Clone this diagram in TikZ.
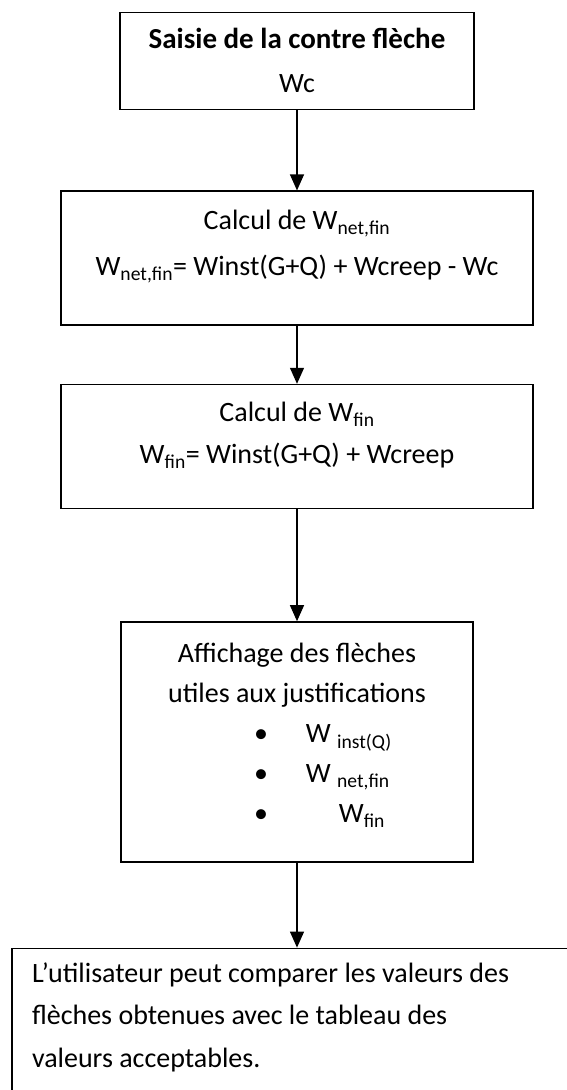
\documentclass[tikz,border=0pt]{standalone}
\usepackage{fontspec}
\setmainfont{Carlito}
\usetikzlibrary{arrows.meta, positioning}

\newcommand{\puce}[2][0pt]{\makebox[86pt][l]{\textbullet\hspace{38pt}\hspace{#1}#2}}

\begin{document}
\begin{tikzpicture}[
    x=1pt, y=1pt,
    stepbox/.style={rectangle, draw, line width=1.4pt, fill=white, align=center, inner ysep=0pt, font=\fontsize{28}{44}\selectfont},
    flow/.style={-{Triangle[length=16pt, width=14pt]}, line width=1.2pt}
]
\useasboundingbox (0,0) rectangle (566,-1090);

% saisie de Wc
\node[stepbox, anchor=north, minimum width=354pt, text height=80pt, text depth=17pt] (saisie) at (297,-12) {
    {\fontsize{29}{44}\selectfont\bfseries Saisie de la contre flèche}\\
    Wc
};

% calcul Wnet,fin
\node[stepbox, below=80pt of saisie, minimum width=472pt, text height=84pt, text depth=50pt,
      font=\fontsize{28}{46}\selectfont] (wnet) {
    Calcul de W\textsubscript{net,fin}\\
    W\textsubscript{net,fin}= Winst(G+Q) + Wcreep - Wc
};

% calcul Wfin
\node[stepbox, below=58pt of wnet, minimum width=472pt, text height=79pt, text depth=45pt,
      font=\fontsize{28}{42}\selectfont] (wfin) {
    Calcul de W\textsubscript{fin}\\
    W\textsubscript{fin}= Winst(G+Q) + Wcreep
};

% affichage des fleches
\node[stepbox, below=112pt of wfin, minimum width=352pt, text height=201pt, text depth=39pt,
      font=\fontsize{28}{40}\selectfont] (affichage) {
    Affichage des flèches\\
    utiles aux justifications\\
    \puce{W \textsubscript{inst(Q)}}\\
    \puce{W \textsubscript{net,fin}}\\
    \puce[33pt]{W\textsubscript{fin}}
};

% comparaison
\node[stepbox, below=85pt of affichage, align=flush left, text width=530pt, inner xsep=20pt,
      text height=34pt, text depth=150pt, font=\fontsize{28}{42.5}\selectfont] (compare) {
    L’utilisateur peut comparer les valeurs des\\
    flèches obtenues avec le tableau des\\
    valeurs acceptables.
};

% liens
\draw[flow] (saisie) -- (wnet);
\draw[flow] (wnet) -- (wfin);
\draw[flow] (wfin) -- (affichage);
\draw[flow] (affichage) -- (compare);

\end{tikzpicture}
\end{document}
